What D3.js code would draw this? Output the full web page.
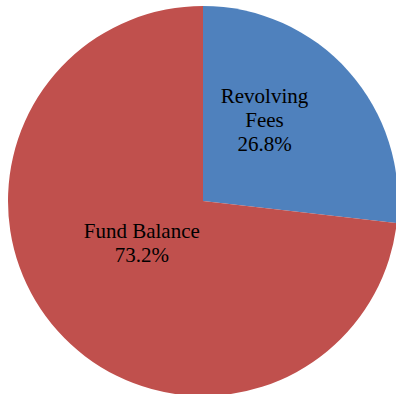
<!DOCTYPE html>
<html>
<head>
<meta charset="utf-8">
<script src="https://cdn.jsdelivr.net/npm/d3@7"></script>
<style>
  html, body { margin: 0; padding: 0; background: #fff; }
  svg { display: block; }
</style>
</head>
<body>
<script>
const categories = ["Revolving Fees", "Fund Balance"];
const values = [26.8, 73.2];
const labelLines = [["Revolving", "Fees", "26.8%"], ["Fund Balance", "73.2%"]];
const colors = ["#4F81BD", "#C0504D"];

const width = 396, height = 394;
const cx = 203, cy = 201, radius = 195;

const svg = d3.select("body").append("svg")
  .attr("width", width)
  .attr("height", height);

const g = svg.append("g").attr("transform", `translate(${cx},${cy})`);

const data = categories.map((c, i) => ({ name: c, value: values[i], lines: labelLines[i], color: colors[i] }));

const pie = d3.pie().sort(null).value(d => d.value);
const arcs = pie(data);

const arc = d3.arc().innerRadius(0).outerRadius(radius);

g.selectAll("path")
  .data(arcs)
  .join("path")
  .attr("d", arc)
  .attr("fill", d => d.data.color);

// label placement: Excel-like, pulled toward the slice interior
const labelRadius = [0.52, 0.38];
const labelAngleShift = [-0.19, 0.13];
const lineHeight = [24, 24];

g.selectAll("text")
  .data(arcs)
  .join("text")
  .attr("text-anchor", "middle")
  .attr("font-family", "'Liberation Serif', 'Times New Roman', serif")
  .attr("font-size", 21)
  .attr("fill", "#000")
  .each(function (d, i) {
    const a = (d.startAngle + d.endAngle) / 2 + labelAngleShift[i];
    const r = radius * labelRadius[i];
    const x = Math.sin(a) * r;
    const y = -Math.cos(a) * r;
    const n = d.data.lines.length;
    const t = d3.select(this);
    d.data.lines.forEach((line, k) => {
      t.append("tspan")
        .attr("x", x)
        .attr("y", y + (k - (n - 1) / 2) * lineHeight[i] + 7)
        .text(line);
    });
  });
</script>
</body>
</html>
